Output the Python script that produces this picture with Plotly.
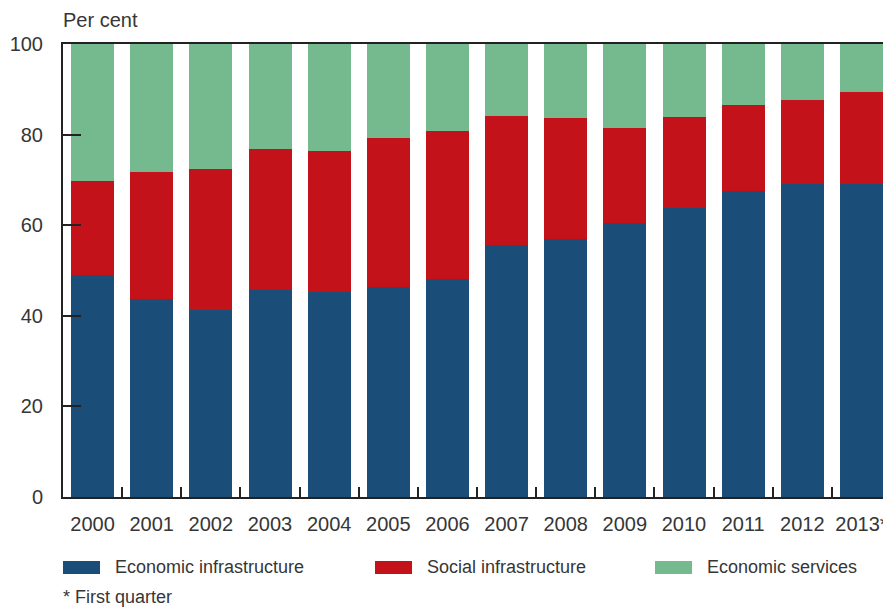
import plotly.graph_objects as go

years = ["2000", "2001", "2002", "2003", "2004", "2005", "2006", "2007",
         "2008", "2009", "2010", "2011", "2012", "2013*"]
economic_infrastructure = [49.0, 43.7, 41.3, 45.8, 45.3, 46.4, 48.1, 55.6,
                           57.0, 60.5, 63.9, 67.5, 69.2, 69.2]
social_infrastructure = [20.8, 28.0, 31.1, 31.0, 31.1, 32.8, 32.7, 28.5,
                         26.7, 21.0, 20.0, 19.0, 18.4, 20.2]
economic_services = [30.2, 28.3, 27.6, 23.2, 23.6, 20.8, 19.2, 15.9,
                     16.3, 18.5, 16.1, 13.5, 12.4, 10.6]
series_names = ["Economic infrastructure", "Social infrastructure", "Economic services"]
colors = ["#1A4E78", "#C3121A", "#75BA8F"]

# page body has an 8px margin; compensate so the chart lands where the reference is
OFF = 8
W, H = 891 - OFF, 607 - OFF
L, R, T, B = 63, 891, 44, 497  # reference pixel positions of the plot area

def px(x):
    return (x - L) / (R - L)

def py(y):
    return (B - y) / (B - T)

fig = go.Figure()
for name, vals, c in zip(series_names,
                         [economic_infrastructure, social_infrastructure, economic_services],
                         colors):
    fig.add_trace(go.Bar(x=years, y=vals, name=name, marker=dict(color=c, line=dict(width=0)),
                         showlegend=False))

font_family = "Liberation Sans, Arial, sans-serif"
txt = "#363636"

fig.update_layout(
    barmode="stack",
    bargap=0.273,
    width=W, height=H,
    margin=dict(l=L - OFF, r=891 - R, t=T - OFF, b=607 - B, autoexpand=False),
    paper_bgcolor="white", plot_bgcolor="white",
    font=dict(family=font_family, size=20, color=txt),
    xaxis=dict(type="category", categoryorder="array", categoryarray=years,
               tickson="boundaries", ticks="inside", ticklen=10, tickwidth=2,
               tickcolor="#222", showline=True, linewidth=2, linecolor="#222",
               mirror=True, showgrid=False, ticklabelstandoff=8, tickangle=0,
               automargin=False, tickfont=dict(size=20, color=txt)),
    yaxis=dict(range=[0, 100], tickvals=[0, 20, 40, 60, 80, 100], ticks="inside",
               ticklen=18, tickwidth=2, tickcolor="#222", showline=True, linewidth=2,
               linecolor="#222", showgrid=False, zeroline=False, ticklabelstandoff=14,
               automargin=False, tickfont=dict(size=20, color=txt)),
)

shapes = []
annotations = [
    dict(text="Per cent", x=px(63), y=py(20), xref="paper", yref="paper",
         xanchor="left", yanchor="middle", showarrow=False, xshift=-2,
         font=dict(size=20, color=txt)),
    dict(text="* First quarter", x=px(63), y=py(597), xref="paper", yref="paper",
         xanchor="left", yanchor="middle", showarrow=False, xshift=-2,
         font=dict(size=18, color=txt)),
]
swatch_x = [63, 375, 655]
text_x = [115, 427, 707]
for name, c, sx, tx in zip(series_names, colors, swatch_x, text_x):
    shapes.append(dict(type="rect", xref="paper", yref="paper",
                       x0=px(sx), x1=px(sx + 37), y0=py(574), y1=py(561),
                       fillcolor=c, line=dict(width=0)))
    annotations.append(dict(text=name, x=px(tx), y=py(567), xref="paper", yref="paper",
                            xanchor="left", yanchor="middle", showarrow=False, xshift=-2,
                            font=dict(size=18, color=txt)))
fig.update_layout(shapes=shapes, annotations=annotations)

fig.write_html("out.html")
